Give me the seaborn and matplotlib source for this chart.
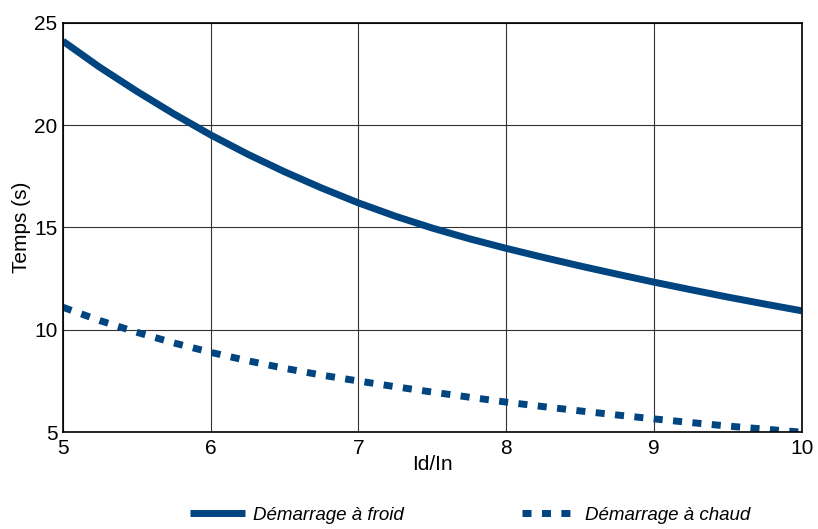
import pandas as pd
import matplotlib
matplotlib.use("Agg")
import matplotlib.pyplot as plt
import seaborn as sns

# --- Data ---
ratio = [5, 5.25, 5.5, 5.75, 6, 6.25, 6.5, 6.75, 7, 7.25, 7.5,
         7.75, 8, 8.25, 8.5, 8.75, 9, 9.25, 9.5, 9.75, 10]
froid = [24.1, 22.82, 21.65, 20.55, 19.52, 18.58, 17.72, 16.93, 16.2, 15.55, 14.97,
         14.45, 13.98, 13.54, 13.12, 12.72, 12.33, 11.96, 11.6, 11.26, 10.93]
chaud = [11.1, 10.45, 9.88, 9.36, 8.9, 8.49, 8.12, 7.79, 7.5, 7.22, 6.96,
         6.71, 6.47, 6.25, 6.04, 5.84, 5.65, 5.47, 5.3, 5.15, 5.0]
labels = ["Démarrage à froid", "Démarrage à chaud"]
x_ticks = [5, 6, 7, 8, 9, 10]
y_ticks = [5, 10, 15, 20, 25]

df = pd.DataFrame({
    "Id/In": ratio * 2,
    "Temps (s)": froid + chaud,
    "mode": [labels[0]] * len(ratio) + [labels[1]] * len(ratio),
})

sns.set_style("white")
plt.rcParams["font.family"] = ["Liberation Sans", "DejaVu Sans"]
plt.rcParams["text.color"] = "black"
plt.rcParams["axes.labelcolor"] = "black"
plt.rcParams["xtick.color"] = "black"
plt.rcParams["ytick.color"] = "black"

color = "#004480"
fig = plt.figure(figsize=(8.18, 5.29), dpi=100)
ax = fig.add_axes([0.077, 0.183, 0.903, 0.774])

sns.lineplot(data=df[df["mode"] == labels[0]], x="Id/In", y="Temps (s)",
             color=color, linewidth=5, ax=ax, label=labels[0])
sns.lineplot(data=df[df["mode"] == labels[1]], x="Id/In", y="Temps (s)",
             color=color, linewidth=5, ax=ax, label=labels[1],
             linestyle=(0, (1.3, 1.5)))
for ln in ax.get_lines():
    ln.set_solid_capstyle("butt")
    ln.set_dash_capstyle("butt")
    ln.set_solid_joinstyle("round")

ax.set_xlim(5, 10)
ax.set_ylim(5, 25)
ax.set_xticks(x_ticks)
ax.set_yticks(y_ticks)
ax.tick_params(axis="x", labelsize=15, length=0, pad=5)
ax.tick_params(axis="y", labelsize=15, length=0, pad=4)
ax.set_xlabel("Id/In", fontsize=15, labelpad=-2)
ax.set_ylabel("Temps (s)", fontsize=15, labelpad=2)
ax.grid(True, color="#333333", linewidth=0.8)
for sp in ax.spines.values():
    sp.set_color("black")
    sp.set_linewidth(1.2)

handles, lbls = ax.get_legend_handles_labels()
ax.get_legend().remove()
fig.legend(handles, lbls, loc="lower center", bbox_to_anchor=(0.575, -0.022),
           ncol=2, frameon=False, prop={"style": "italic", "size": 13.5},
           handlelength=2.9, columnspacing=6.3, handletextpad=0.45)

fig.savefig("out.png", dpi=100)
